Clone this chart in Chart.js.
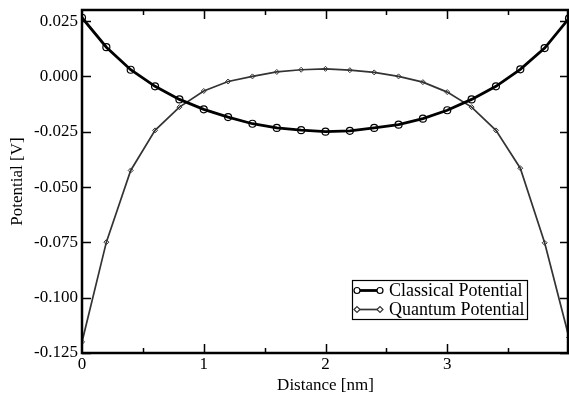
<!DOCTYPE html>
<html>
<head>
<meta charset="utf-8">
<script src="https://cdn.jsdelivr.net/npm/chart.js@4.4.1/dist/chart.umd.min.js"></script>
<style>
  html, body { margin: 0; padding: 0; background: #fff; }
  #wrap { width: 569px; height: 398px; }
</style>
</head>
<body>
<div id="wrap"><canvas id="c" width="569" height="398"></canvas></div>
<script>
// ---- data ----
const distances = [0.0, 0.2, 0.4, 0.6, 0.8, 1.0, 1.2, 1.4, 1.6, 1.8, 2.0, 2.2, 2.4, 2.6, 2.8, 3.0, 3.2, 3.4, 3.6, 3.8, 4.0];
const classicalPotential = [0.0265, 0.0132, 0.0030, -0.0045, -0.0104, -0.0149, -0.0184, -0.0214, -0.0233, -0.0243, -0.0250, -0.0246, -0.0233, -0.0218, -0.0191, -0.0153, -0.0104, -0.0045, 0.0032, 0.0128, 0.0262];
const quantumPotential = [-0.1200, -0.0749, -0.0425, -0.0244, -0.0139, -0.0066, -0.0023, 0.0000, 0.0020, 0.0030, 0.0034, 0.0028, 0.0018, 0.0000, -0.0026, -0.0071, -0.0139, -0.0244, -0.0415, -0.0752, -0.1180];
const seriesLabels = ['Classical Potential', 'Quantum Potential'];
const xTickValues = [0, 1, 2, 3];
const xTickLabels = ['0', '1', '2', '3'];
const xMinorTicks = [0.5, 1.5, 2.5, 3.5];
const yTickValues = [-0.125, -0.100, -0.075, -0.050, -0.025, 0.000, 0.025];
const yTickLabels = ['-0.125', '-0.100', '-0.075', '-0.050', '-0.025', '0.000', '0.025'];

const FONT = 'Liberation Serif, "Times New Roman", Times, serif';

const framePlugin = {
  id: 'frame',
  afterDatasetsDraw(chart) {
    const { ctx, chartArea: a, scales: { x, y } } = chart;
    ctx.save();
    ctx.strokeStyle = '#000';
    ctx.lineWidth = 1.5;
    ctx.beginPath();
    xTickValues.forEach(v => {
      if (v === 0) return;
      const px = Math.round(x.getPixelForValue(v)) + 0.5;
      ctx.moveTo(px, a.bottom); ctx.lineTo(px, a.bottom - 9);
      ctx.moveTo(px, a.top); ctx.lineTo(px, a.top + 9);
    });
    xMinorTicks.forEach(v => {
      const px = Math.round(x.getPixelForValue(v)) + 0.5;
      ctx.moveTo(px, a.bottom); ctx.lineTo(px, a.bottom - 5);
      ctx.moveTo(px, a.top); ctx.lineTo(px, a.top + 5);
    });
    yTickValues.forEach(v => {
      const py = Math.round(y.getPixelForValue(v)) + 0.5;
      ctx.moveTo(a.left, py); ctx.lineTo(a.left + 9, py);
      ctx.moveTo(a.right, py); ctx.lineTo(a.right - 9, py);
    });
    ctx.stroke();
    ctx.lineWidth = 2.5;
    ctx.strokeRect(a.left, a.top, a.right - a.left - 1, a.bottom - a.top);
    ctx.restore();
  }
};

const legendPlugin = {
  id: 'boxLegend',
  afterDraw(chart) {
    const { ctx } = chart;
    const bx = 352, by = 280, bw = 175, bh = 39;
    ctx.save();
    ctx.fillStyle = '#fff';
    ctx.fillRect(bx, by, bw, bh);
    ctx.strokeStyle = '#000';
    ctx.lineWidth = 1.2;
    ctx.strokeRect(bx + 0.5, by + 0.5, bw, bh);
    chart.data.datasets.forEach((ds, i) => {
      const cy = by + 10.5 + i * 19;
      ctx.strokeStyle = ds.borderColor;
      ctx.lineWidth = ds.borderWidth;
      ctx.beginPath();
      ctx.moveTo(357, cy); ctx.lineTo(380, cy);
      ctx.stroke();
      ctx.lineWidth = 1.2;
      [357, 380].forEach(px => {
        ctx.beginPath();
        if (ds.pointStyle === 'circle') {
          ctx.arc(px, cy, 3, 0, Math.PI * 2);
        } else {
          ctx.moveTo(px - 3, cy); ctx.lineTo(px, cy - 3); ctx.lineTo(px + 3, cy); ctx.lineTo(px, cy + 3); ctx.closePath();
        }
        ctx.fillStyle = '#fff';
        ctx.fill();
        ctx.stroke();
      });
      ctx.fillStyle = '#000';
      ctx.font = '18px ' + FONT;
      ctx.textBaseline = 'middle';
      ctx.textAlign = 'left';
      ctx.fillText(ds.label, 389, cy + 1);
    });
    ctx.restore();
  }
};

new Chart(document.getElementById('c'), {
  type: 'line',
  data: {
    datasets: [
      {
        label: seriesLabels[0],
        data: distances.map((d, i) => ({ x: d, y: classicalPotential[i] })),
        borderColor: '#000',
        borderWidth: 2.8,
        pointStyle: 'circle',
        pointRadius: 3.5,
        pointBorderWidth: 1.2,
        pointBackgroundColor: 'rgba(255,255,255,0)',
        pointBorderColor: '#000',
        tension: 0
      },
      {
        label: seriesLabels[1],
        data: distances.map((d, i) => ({ x: d, y: quantumPotential[i] })),
        borderColor: '#333',
        borderWidth: 1.7,
        pointStyle: 'rectRot',
        pointRadius: 2.5,
        pointBorderWidth: 1,
        pointBackgroundColor: 'rgba(255,255,255,0)',
        pointBorderColor: '#333',
        tension: 0
      }
    ]
  },
  options: {
    responsive: false,
    animation: false,
    devicePixelRatio: 1,
    layout: { autoPadding: false, padding: { top: 10, right: 0, left: 0, bottom: 0 } },
    plugins: { legend: { display: false }, tooltip: { enabled: false } },
    scales: {
      x: {
        type: 'linear',
        position: 'bottom',
        min: 0,
        max: 4,
        afterBuildTicks: s => { s.ticks = xTickValues.map(v => ({ value: v })); },
        afterFit: s => { s.height = 45; s.paddingLeft = 0; s.paddingRight = 0; },
        grid: { display: false, drawTicks: false },
        border: { display: false },
        ticks: {
          color: '#000',
          font: { family: FONT, size: 17 },
          padding: 1,
          maxRotation: 0,
          autoSkip: false,
          callback: (v) => { const i = xTickValues.indexOf(v); return i >= 0 ? xTickLabels[i] : ''; }
        },
        title: {
          display: true,
          text: 'Distance [nm]',
          color: '#000',
          font: { family: FONT, size: 17 },
          padding: { top: 0, bottom: 2 }
        }
      },
      y: {
        type: 'linear',
        position: 'left',
        min: -0.125,
        max: 0.030,
        afterBuildTicks: s => { s.ticks = yTickValues.map(v => ({ value: v })); },
        afterFit: s => { s.width = 82; s.paddingTop = 0; s.paddingBottom = 0; },
        grid: { display: false, drawTicks: false },
        border: { display: false },
        ticks: {
          color: '#000',
          font: { family: FONT, size: 17 },
          padding: 4,
          autoSkip: false,
          callback: (v) => { const i = yTickValues.findIndex(t => Math.abs(t - v) < 1e-9); return i >= 0 ? yTickLabels[i] : ''; }
        },
        title: {
          display: true,
          text: 'Potential [V]',
          color: '#000',
          font: { family: FONT, size: 17 },
          padding: { top: 7, bottom: 0 }
        }
      }
    }
  },
  plugins: [framePlugin, legendPlugin]
});
</script>
</body>
</html>
